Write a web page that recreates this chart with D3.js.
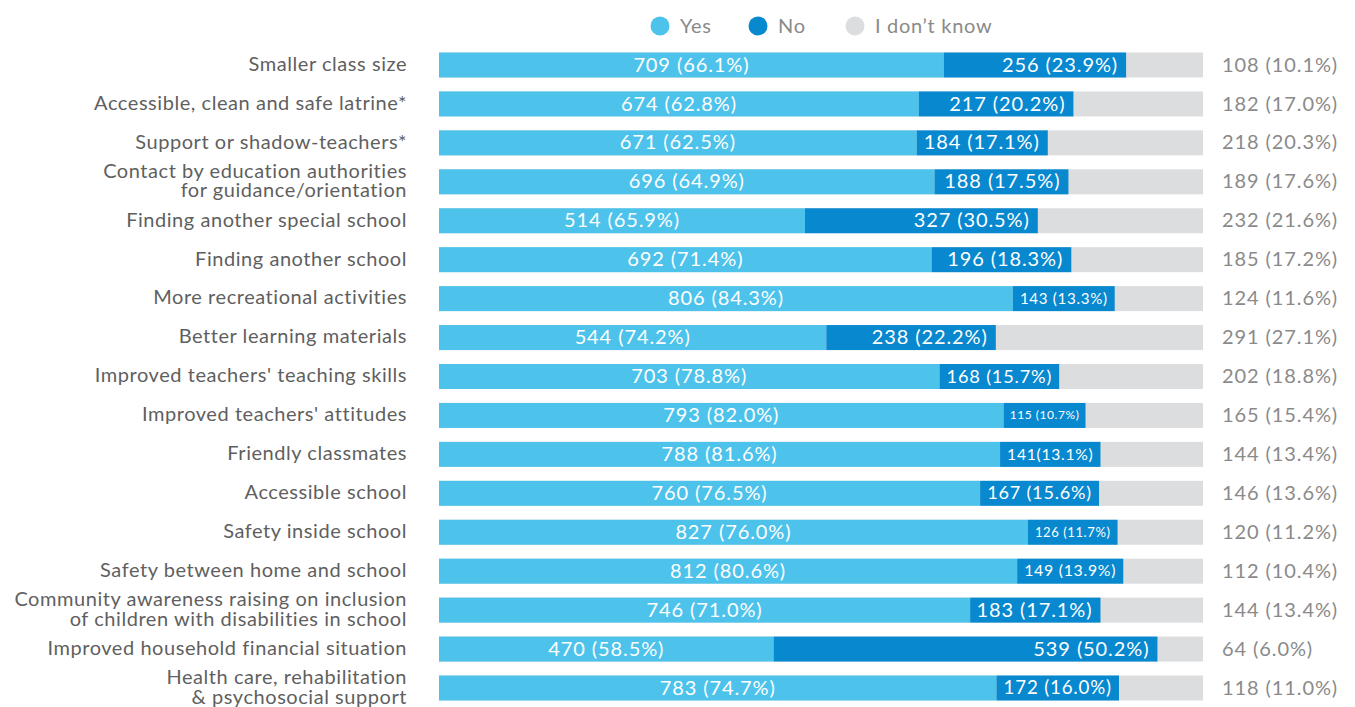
<!DOCTYPE html>
<html><head><meta charset="utf-8">
<script src="https://cdn.jsdelivr.net/npm/d3@7"></script>
<style>body{margin:0;background:#fff;} svg{display:block;font-family:Lato, 'Open Sans', sans-serif;}</style>
</head><body>
<svg id="chart" width="1355" height="707"></svg>
<script>
const categories = [
  "Smaller class size",
  "Accessible, clean and safe latrine*",
  "Support or shadow-teachers*",
  "Contact by education authorities\nfor guidance/orientation",
  "Finding another special school",
  "Finding another school",
  "More recreational activities",
  "Better learning materials",
  "Improved teachers' teaching skills",
  "Improved teachers' attitudes",
  "Friendly classmates",
  "Accessible school",
  "Safety inside school",
  "Safety between home and school",
  "Community awareness raising on inclusion\nof children with disabilities in school",
  "Improved household financial situation",
  "Health care, rehabilitation\n& psychosocial support"
];
const yesValues = [709, 674, 671, 696, 514, 692, 806, 544, 703, 793, 788, 760, 827, 812, 746, 470, 783];
const noValues  = [256, 217, 184, 188, 327, 196, 143, 238, 168, 115, 141, 167, 126, 149, 183, 539, 172];
const dkValues  = [108, 182, 218, 189, 232, 185, 124, 291, 202, 165, 144, 146, 120, 112, 144, 64, 118];
const yesLabels = ["709 (66.1%)","674 (62.8%)","671 (62.5%)","696 (64.9%)","514 (65.9%)","692 (71.4%)","806 (84.3%)","544 (74.2%)","703 (78.8%)","793 (82.0%)","788 (81.6%)","760 (76.5%)","827 (76.0%)","812 (80.6%)","746 (71.0%)","470 (58.5%)","783 (74.7%)"];
const noLabels  = ["256 (23.9%)","217 (20.2%)","184 (17.1%)","188 (17.5%)","327 (30.5%)","196 (18.3%)","143 (13.3%)","238 (22.2%)","168 (15.7%)","115 (10.7%)","141(13.1%)","167 (15.6%)","126 (11.7%)","149 (13.9%)","183 (17.1%)","539 (50.2%)","172 (16.0%)"];
const dkLabels  = ["108 (10.1%)","182 (17.0%)","218 (20.3%)","189 (17.6%)","232 (21.6%)","185 (17.2%)","124 (11.6%)","291 (27.1%)","202 (18.8%)","165 (15.4%)","144 (13.4%)","146 (13.6%)","120 (11.2%)","112 (10.4%)","144 (13.4%)","64 (6.0%)","118 (11.0%)"];
const seriesNames = ["Yes", "No", "I don\u2019t know"];

const colors = {yes:"#4dc3eb", no:"#0788cf", dk:"#dcdddf"};
const svg = d3.select("#chart");

const rows = categories.map((c,i)=>{
  const t = yesValues[i]+noValues[i]+dkValues[i];
  return {cat:c, yes:yesValues[i]/t, no:noValues[i]/t, dk:dkValues[i]/t,
          yl:yesLabels[i], nl:noLabels[i], dl:dkLabels[i]};
});

const x = d3.scaleLinear().domain([0,1]).range([439,1203]);
const y = d3.scaleBand().domain(categories).range([52.5,700.5]).paddingInner(0.358).paddingOuter(0);
const bw = y.bandwidth();

const g = svg.append("g");
const row = g.selectAll("g.row").data(rows).join("g").attr("class","row")
  .attr("transform", d=>`translate(0,${y(d.cat)})`);

row.append("rect").attr("x", x(0)).attr("width", x(1)-x(0)).attr("height", bw).attr("fill", colors.dk);
row.append("rect").attr("x", x(0)).attr("width", d=>x(d.yes)-x(0)).attr("height", bw).attr("fill", colors.yes);
row.append("rect").attr("x", d=>x(d.yes)).attr("width", d=>x(d.yes+d.no)-x(d.yes)).attr("height", bw).attr("fill", colors.no);

const fs = 20, ls = 0.9;
row.append("text").attr("x", d=>(x(0)+x(d.yes))/2).attr("y", bw/2).attr("dy","0.33em")
  .attr("text-anchor","middle").attr("fill","#fff").attr("font-size",fs).attr("letter-spacing",ls).text(d=>d.yl);

row.append("text").attr("class","nol").attr("x", d=>x(d.yes+d.no)-8).attr("y", bw/2).attr("dy","0.33em")
  .attr("text-anchor","end").attr("fill","#fff").attr("font-size",fs).attr("letter-spacing",ls).text(d=>d.nl)
  .each(function(d){
    const avail = x(d.yes+d.no)-x(d.yes)-14;
    const len = this.getComputedTextLength();
    if (len > avail) {
      const s = Math.max(12, fs*avail/len);
      d3.select(this).attr("font-size", s).attr("letter-spacing", ls*s/fs)
        .attr("x", (x(d.yes)+x(d.yes+d.no))/2).attr("text-anchor","middle");
    }
  });

row.append("text").attr("x", 1222).attr("y", bw/2).attr("dy","0.33em")
  .attr("fill","#8a8a8a").attr("font-size",fs).attr("letter-spacing",ls).text(d=>d.dl);

// category labels
row.each(function(d){
  const lines = d.cat.split("\n");
  const t = d3.select(this).append("text").attr("x",407).attr("text-anchor","end")
    .attr("fill","#5f5f5f").attr("font-size",20).attr("letter-spacing",0.55);
  const lh = 19.5;
  lines.forEach((ln,k)=>{
    t.append("tspan").attr("x",407)
      .attr("y", bw/2 + (k-(lines.length-1)/2)*lh).attr("dy","0.29em").text(ln);
  });
});

// legend
const legX = [660, 758, 855];
const legCol = [colors.yes, colors.no, colors.dk];
const leg = svg.append("g").selectAll("g").data(seriesNames).join("g")
  .attr("transform",(d,i)=>`translate(${legX[i]},26)`);
leg.append("circle").attr("r",9.5).attr("fill",(d,i)=>legCol[i]);
leg.append("text").attr("x",20).attr("dy","0.34em").attr("fill","#8a8a8a").attr("font-size",20).attr("letter-spacing",0.7).text(d=>d);
</script>
</body></html>
